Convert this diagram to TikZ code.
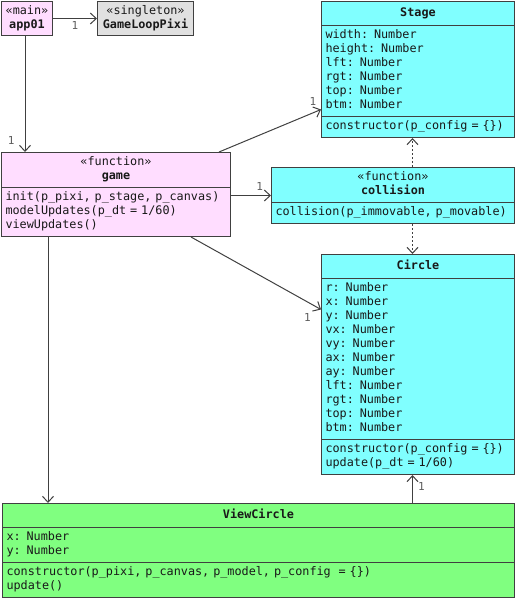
\documentclass[tikz,border=0pt]{standalone}
\usepackage{fontspec}
\newfontfamily\umlfont{DejaVu Sans Mono}
\usepackage{xcolor}
\usepackage{tikz}
\usetikzlibrary{shapes.multipart,arrows.meta,positioning}
\definecolor{fnpink}{HTML}{FFDDFF}
\definecolor{modcyan}{HTML}{80FFFF}
\definecolor{viewgreen}{HTML}{80FF80}
\definecolor{singray}{HTML}{E0E0E0}
\definecolor{edge}{HTML}{404040}
\newcommand\headstrut{\rule[-5.7pt]{0pt}{17pt}}
\tikzstyle{stereobox}=[
draw=edge,
line width=1pt,
align=center,
inner sep=2pt,
minimum height=34pt,
text=black!90,
font=\umlfont\fontsize{11.8}{14}\selectfont
]
\tikzstyle{umlclass}=[
draw=edge,
line width=1pt,
rectangle split,
rectangle split parts=3,
inner xsep=4pt,
inner ysep=3pt,
align=left,
text=black!90,
font=\umlfont\fontsize{11.8}{14}\selectfont
]
\tikzstyle{arrow}=[
draw=edge,
line width=1pt,
-{Straight Barb[length=6pt,width=11pt]}
]
\tikzstyle{depend}=[
arrow,
dash pattern=on 2pt off 2pt
]
\tikzstyle{mult}=[
inner sep=2pt,
text=edge!85,
font=\umlfont\fontsize{11}{13}\selectfont
]

\begin{document}
\begin{tikzpicture}[x=1pt,y=-1pt]
\useasboundingbox (0,0) rectangle (515,600);

\node (app01) [stereobox, fill=fnpink, minimum width=51pt, anchor=north west] at (1,1) {«main»\\\textbf{app01}};
\node (loop) [stereobox, fill=singray, minimum width=96pt, right=44pt of app01] {«singleton»\\\textbf{GameLoopPixi}};

\node (game) [umlclass, rectangle split parts=2, fill=fnpink, text width=221pt, below right=116pt and 0pt of app01.south west] {
{\centering\strut«function»\\\textbf{game}\strut\par}
\nodepart{two}\strut init(p\_pixi, p\_stage, p\_canvas)\\modelUpdates(p\_dt = 1/60)\\viewUpdates()\strut
};

\node (stage) [umlclass, fill=modcyan, text width=185pt, below right=0pt and 268pt of app01.north east] {
{\centering\headstrut\textbf{Stage}\par}
\nodepart{two}\strut width: Number\\height: Number\\lft: Number\\rgt: Number\\top: Number\\btm: Number\strut
\nodepart{three}\strut constructor(p\_config = \{\})\strut
};

\node (collision) [umlclass, rectangle split parts=2, fill=modcyan, text width=235pt, below left=29pt and 0pt of stage.south east] {
{\centering\strut«function»\\\textbf{collision}\strut\par}
\nodepart{two}\strut collision(p\_immovable, p\_movable)\strut
};

\node (circle) [umlclass, fill=modcyan, text width=185pt, below left=30pt and 0pt of collision.south east] {
{\centering\headstrut\textbf{Circle}\par}
\nodepart{two}\strut r: Number\\x: Number\\y: Number\\vx: Number\\vy: Number\\ax: Number\\ay: Number\\lft: Number\\rgt: Number\\top: Number\\btm: Number\strut
\nodepart{three}\strut constructor(p\_config = \{\})\\update(p\_dt = 1/60)\strut
};

\node (viewcircle) [umlclass, fill=viewgreen, text width=504pt, below left=28pt and 0pt of circle.south east] {
{\centering\headstrut\textbf{ViewCircle}\par}
\nodepart{two}\strut x: Number\\y: Number\strut
\nodepart{three}\strut constructor(p\_pixi, p\_canvas, p\_model, p\_config\ \ = \{\})\\update()\strut
};

\coordinate (sx) at ([xshift=-5.5pt]stage.south);
\coordinate (gx) at ([xshift=47pt]game.south west);

\draw [arrow] (app01) -- (loop) node[mult, below, pos=0.5] {1};
\draw [arrow] ([xshift=-2pt]app01.south) -- ([xshift=-2pt]app01.south |- game.north) node[mult, left=8pt, pos=0.9] {1};
\draw [arrow] ([xshift=-12pt]game.north east) -- ([yshift=-40pt]stage.west) node[mult, above=5pt, pos=0.92] {1};
\draw [arrow] (game.east |- collision.west) -- (collision.west) node[mult, above=3pt, pos=0.72] {1};
\draw [arrow] ([xshift=-40pt]game.south east) -- ([yshift=55pt]circle.west) node[mult, below=5pt, xshift=-7pt, pos=0.95] {1};
\draw [arrow] (gx) -- (gx |- viewcircle.north);
\draw [depend] (collision.north -| sx) -- (sx);
\draw [depend] (collision.south -| sx) -- (sx |- circle.north);
\draw [arrow] (sx |- viewcircle.north) -- (sx |- circle.south) node[mult, right=3pt, pos=0.6] {1};

\end{tikzpicture}
\end{document}
